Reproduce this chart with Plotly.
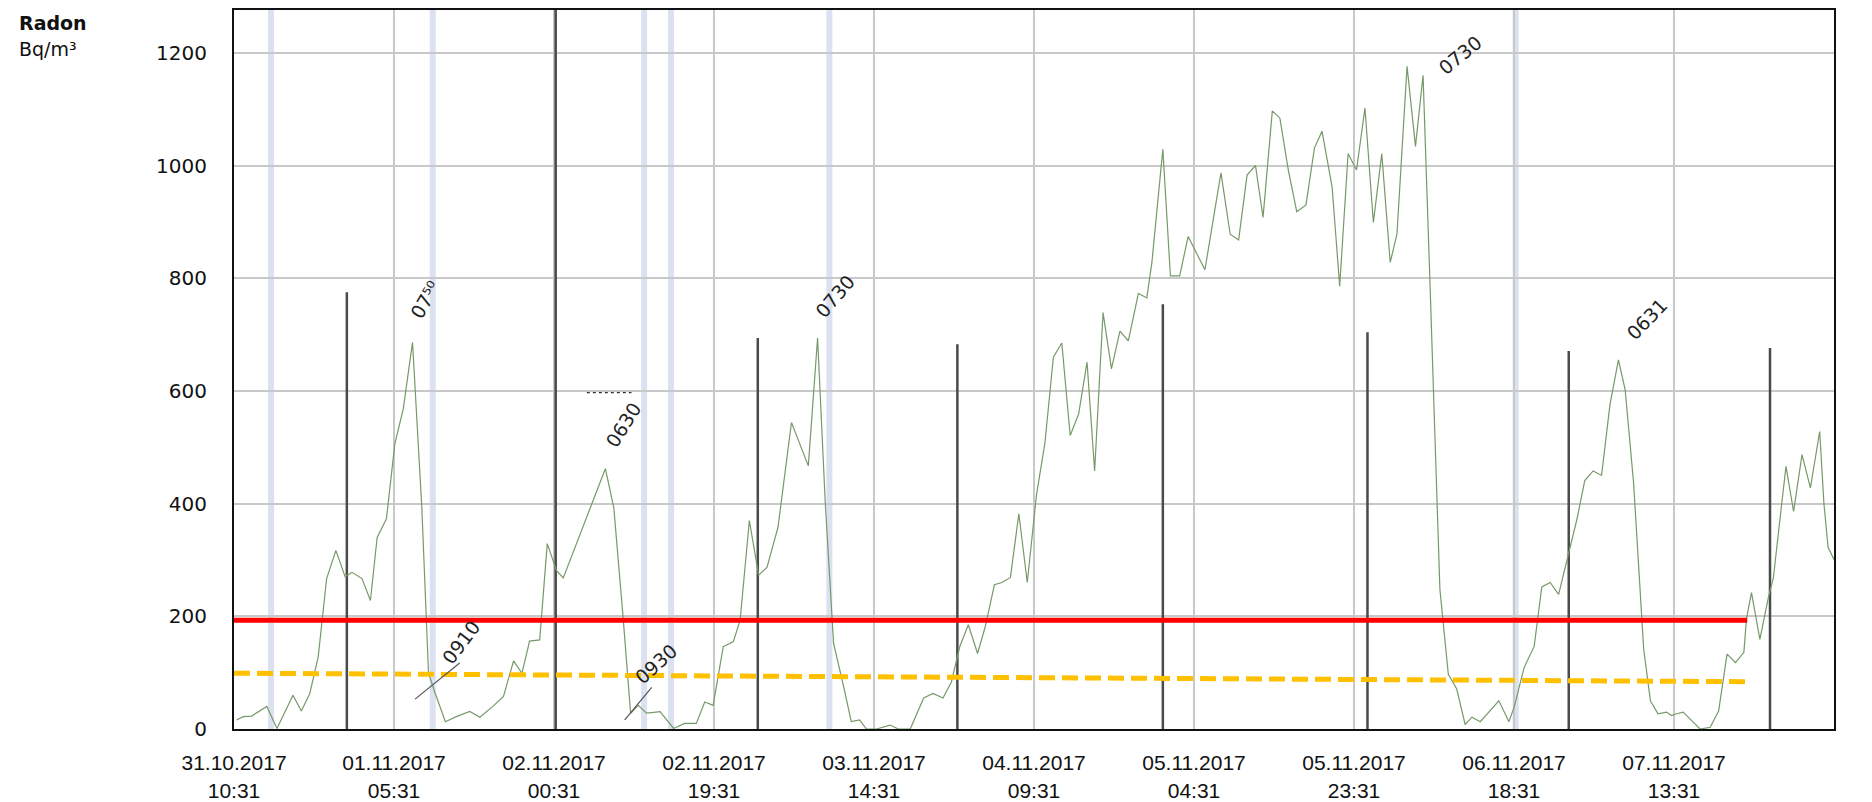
import plotly.graph_objects as go

# ---------------- data (hours since 31.10.2017 10:31) ----------------
hours = [0.3, 1.1, 2.1, 3.9, 5.1, 7.0, 8.0, 9.0, 10.0, 11.0,
         12.1, 13.2, 14.0, 15.2, 16.2, 17.0, 18.1, 19.1, 20.1, 21.2,
         22.3, 23.1, 23.9, 25.1, 26.4, 28.0, 29.2, 30.8, 32.0, 33.2,
         34.2, 35.1, 36.3, 37.2, 38.3, 39.1, 44.1, 45.1, 46.2, 47.1,
         48.0, 49.0, 50.6, 52.2, 53.5, 54.9, 55.9, 56.9, 58.1, 59.3,
         60.1, 61.2, 62.3, 63.3, 64.6, 66.2, 68.2, 69.3, 70.2, 71.2,
         72.4, 73.3, 74.3, 75.1, 76.3, 77.9, 78.9, 80.3, 81.9, 83.0,
         84.2, 85.2, 86.2, 87.2, 88.3, 89.2, 90.3, 91.2, 92.2, 93.2,
         94.2, 95.3, 96.3, 97.3, 98.3, 99.3, 100.3, 101.3, 102.2, 103.2,
         104.2, 105.2, 106.2, 107.4, 108.4, 109.0, 110.3, 111.2, 112.3, 113.3,
         115.3, 117.2, 118.3, 119.3, 120.3, 121.3, 122.2, 123.3, 124.2, 125.2,
         126.2, 127.3, 128.3, 129.2, 130.4, 131.3, 132.3, 133.3, 134.3, 135.3,
         136.3, 137.3, 138.1, 139.3, 140.3, 141.2, 142.0, 142.6, 143.2, 144.2,
         145.2, 146.2, 147.0, 148.0, 149.2, 150.2, 151.4, 152.0, 153.2, 154.4,
         155.3, 156.3, 157.3, 158.3, 159.5, 160.4, 161.4, 162.4, 163.4, 164.4,
         165.2, 166.2, 166.8, 167.4, 168.2, 169.1, 170.1, 170.7, 171.3, 172.1,
         173.1, 174.1, 175.3, 176.3, 177.3, 178.3, 179.3, 179.6, 180.2, 181.2,
         182.2, 182.8, 183.8, 184.3, 185.2, 186.2, 187.2, 188.3, 188.8, 189.3,
         190.0]
radon = [16, 22, 23, 40, 1, 60, 32, 63, 128, 267,
         317, 270, 278, 267, 228, 340, 373, 506, 568, 686,
         394, 99, 63, 13, 22, 31, 21, 41, 58, 121,
         99, 156, 158, 329, 281, 268, 462, 393, 199, 28,
         42, 28, 31, 1, 10, 10, 48, 42, 146, 155,
         193, 370, 273, 287, 358, 544, 467, 694, 405, 152,
         75, 13, 16, 0, 0, 7, 0, 0, 55, 63,
         55, 84, 147, 185, 134, 181, 256, 260, 269, 382,
         260, 416, 508, 660, 685, 521, 559, 651, 458, 739,
         639, 706, 689, 773, 765, 828, 1029, 804, 804, 874,
         815, 987, 878, 868, 983, 1000, 908, 1097, 1084, 992,
         918, 930, 1031, 1061, 962, 786, 1021, 992, 1102, 899,
         1021, 828, 878, 1176, 1034, 1160, 802, 542, 248, 97,
         71, 8, 21, 13, 34, 50, 13, 38, 109, 147,
         252, 260, 239, 298, 374, 441, 458, 450, 576, 655,
         602, 437, 289, 142, 50, 27, 30, 24, 27, 30,
         15, 0, 3, 32, 133, 118, 136, 195, 242, 159,
         233, 268, 401, 466, 386, 487, 428, 528, 401, 322,
         301]

# midnight marker lines (hand drawn) : position and height
marker_hours = [13.4, 38.2, 62.2, 85.9, 110.3, 134.6, 158.5, 182.4]
marker_heights = [775, 1276, 694, 683, 754, 704, 671, 676]

# light blue scan bands
band_hours = [4.4, 23.6, 48.7, 51.9, 70.7, 152.2]

# limit lines
limit_hours = [0, 179.7]
red_limit = [193, 193]
orange_limit = [99, 84]

tick_hours = [0, 19, 38, 57, 76, 95, 114, 133, 152, 171, 190]
tick_labels = ["31.10.2017<br>10:31", "01.11.2017<br>05:31", "02.11.2017<br>00:31",
               "02.11.2017<br>19:31", "03.11.2017<br>14:31", "04.11.2017<br>09:31",
               "05.11.2017<br>04:31", "05.11.2017<br>23:31", "06.11.2017<br>18:31",
               "07.11.2017<br>13:31", ""]
y_ticks = [0, 200, 400, 600, 800, 1000, 1200]

# handwritten notes: text, hour, value, angle
note_text = ["07⁵⁰", "0910", "0630", "0930", "0730", "0730", "0631", "0630"]
note_hour = [22.7, 27.0, 46.2, 50.1, 71.4, 145.6, 167.8, 191.3]
note_value = [761, 154, 540, 115, 768, 1196, 727, 572]
note_angle = [-60, -53, -58, -42, -50, -39, -46, -43]

# ---------------- figure ----------------
fig = go.Figure()

mx, my = [], []
for h, v in zip(marker_hours, marker_heights):
    mx += [h, h, None]
    my += [0, v, None]
fig.add_trace(go.Scatter(x=mx, y=my, mode="lines",
                         line=dict(color="#4a4a4a", width=2.5),
                         hoverinfo="skip", showlegend=False))

fig.add_trace(go.Scatter(x=hours, y=radon, mode="lines",
                         line=dict(color="#76996a", width=1.2),
                         showlegend=False, name="Radon"))

fig.add_trace(go.Scatter(x=limit_hours, y=orange_limit, mode="lines",
                         line=dict(color="#FFC000", width=5, dash="16px,7px"),
                         showlegend=False))
fig.add_trace(go.Scatter(x=limit_hours, y=red_limit, mode="lines",
                         line=dict(color="#FF0000", width=5),
                         showlegend=False))

shapes = []
for h in band_hours:
    shapes.append(dict(type="line", xref="x", yref="paper", x0=h, x1=h, y0=0, y1=1,
                       line=dict(color="rgba(190,200,228,0.55)", width=6), layer="below"))
# pen strokes
shapes.append(dict(type="line", xref="x", yref="y", x0=21.5, y0=53, x1=26.8, y1=117,
                   line=dict(color="#555", width=1.2)))
shapes.append(dict(type="line", xref="x", yref="y", x0=46.4, y0=16, x1=49.6, y1=74,
                   line=dict(color="#555", width=1.2)))
shapes.append(dict(type="line", xref="x", yref="y", x0=41.9, y0=597, x1=47.2, y1=597,
                   line=dict(color="#333", width=1.2, dash="dot")))

annotations = []
for t, h, v, a in zip(note_text, note_hour, note_value, note_angle):
    annotations.append(dict(x=h, y=v, xref="x", yref="y", text=t, showarrow=False,
                            textangle=a, font=dict(family="DejaVu Sans", size=19, color="#222")))
annotations.append(dict(x=-0.1356, y=0.982, xref="paper", yref="paper", text="<b>Radon</b>",
                        showarrow=False, xanchor="left", yanchor="middle",
                        font=dict(family="DejaVu Sans", size=19, color="#111")))
annotations.append(dict(x=-0.1356, y=0.946, xref="paper", yref="paper", text="Bq/m³",
                        showarrow=False, xanchor="left", yanchor="middle",
                        font=dict(family="DejaVu Sans", size=19, color="#111")))

fig.update_layout(
    width=1864, height=794,
    margin=dict(l=226, r=38, t=0, b=73),
    paper_bgcolor="white", plot_bgcolor="white",
    shapes=shapes, annotations=annotations,
    xaxis=dict(range=[0, 190], tickvals=tick_hours, ticktext=tick_labels,
               showgrid=True, gridcolor="#c8c8c8", gridwidth=1.5,
               showline=True, mirror=True, linecolor="#111", linewidth=2,
               zeroline=False, ticks="", ticklabelstandoff=14,
               tickfont=dict(family="Liberation Sans, Arial", size=21, color="#111")),
    yaxis=dict(range=[0, 1276], tickvals=y_ticks,
               showgrid=True, gridcolor="#c8c8c8", gridwidth=2,
               showline=True, mirror=True, linecolor="#111", linewidth=2,
               zeroline=False, ticks="", ticklabelstandoff=21,
               tickfont=dict(family="DejaVu Sans", size=20, color="#111")),
)

fig.write_html("out.html")
